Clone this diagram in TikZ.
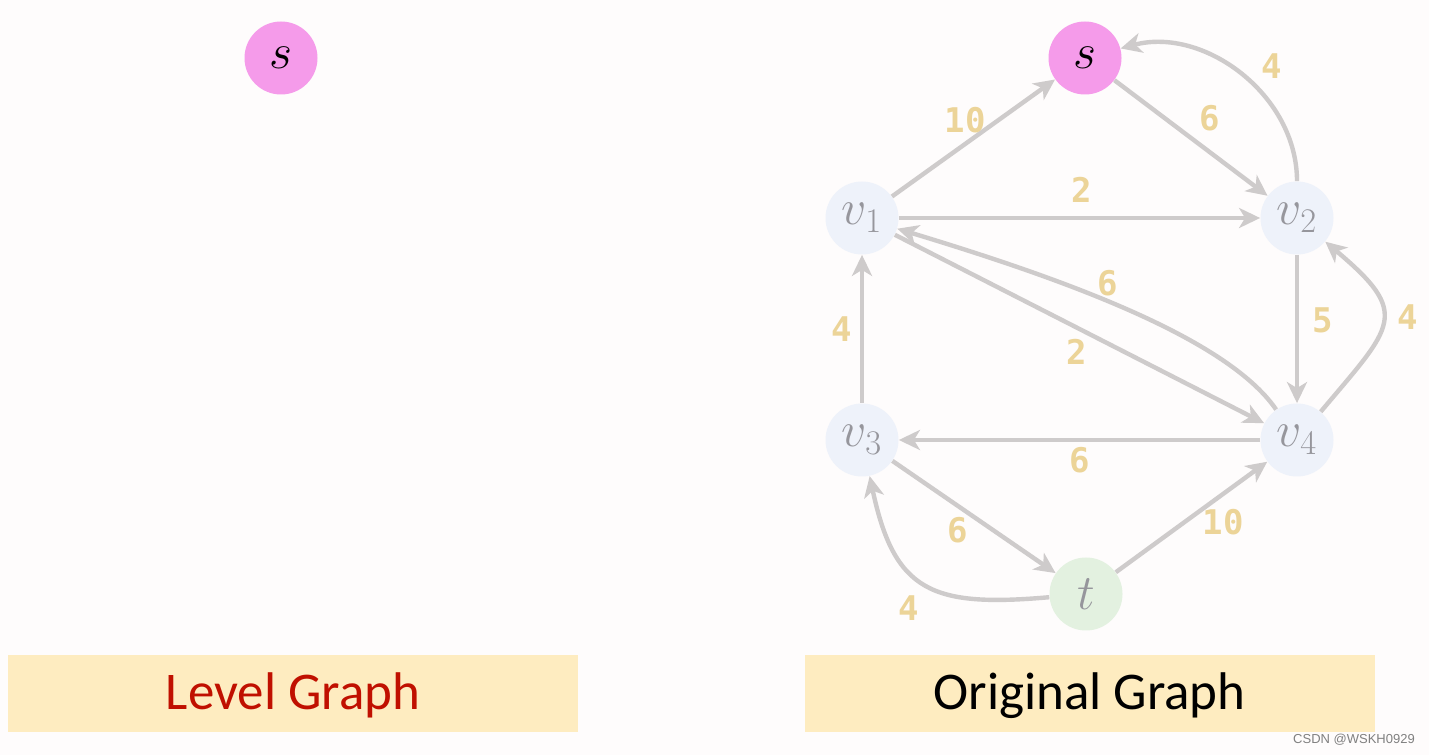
\documentclass[tikz,border=0pt]{standalone}
\usepackage{fontspec}
\setmainfont{Carlito}
\newfontfamily\lblfont{DejaVu Sans Mono}
\newfontfamily\markfont{Liberation Sans}
\usetikzlibrary{arrows.meta}
\definecolor{bgwhite}{RGB}{254,252,252}
\definecolor{edgegray}{RGB}{206,203,203}
\definecolor{srcpink}{RGB}{245,155,234}
\definecolor{vblue}{RGB}{238,242,250}
\definecolor{tgreen}{RGB}{227,241,224}
\definecolor{vtext}{RGB}{150,150,156}
\definecolor{lblgold}{RGB}{236,212,152}
\definecolor{boxyellow}{RGB}{254,236,192}
\definecolor{titlered}{RGB}{192,16,0}
\tikzset{
  vtx/.style={circle,minimum size=36.5pt,inner sep=0pt,font=\fontsize{24}{24}\selectfont},
  src/.style={vtx,fill=srcpink},
  inner/.style={vtx,fill=vblue,text=vtext},
  sink/.style={vtx,fill=tgreen,text=vtext},
  arr/.style={-{Stealth[length=10.5pt,width=10pt,inset=3pt]},line width=2.2pt,draw=edgegray},
  lbl/.style={font=\lblfont\bfseries\fontsize{17}{17}\selectfont,text=lblgold,inner sep=0pt},
  titlebox/.style={fill=boxyellow,minimum width=285pt,minimum height=38.5pt,inner sep=0pt,text depth=2pt,font=\fontsize{26.5}{26.5}\selectfont}
}

\begin{document}
\begin{tikzpicture}[x=0.5pt,y=0.5pt]
\path[fill=bgwhite] (0,0) rectangle (1429,755);
% level graph (left)
\node[src] (ls) at (281,697) {$s$};
\node[titlebox,text=titlered] (lvl) at (293,61.5) {Level Graph};
% original graph (right)
\node[src] (s) at (1085,697) {$s$};
\node[inner] (v1) at (862,537) {$v_1$};
\node[inner] (v2) at (1297,537) {$v_2$};
\node[inner] (v3) at (862,315) {$v_3$};
\node[inner] (v4) at (1297,315) {$v_4$};
\node[sink] (t) at (1086,161) {$t$};
\node[titlebox] (org) at (1089.5,61.5) {Original Graph};
\draw[arr] (v1) -- node[lbl,midway,xshift=-4.25pt,yshift=9pt] {10} (s);
\draw[arr] (s) -- node[lbl,midway,xshift=9.5pt,yshift=10pt] {6} (v2);
\draw[arr] (v2) to[out=90,in=15] node[lbl,midway,xshift=15.7pt,yshift=4pt] {4} (s);
\draw[arr] (v1) -- node[lbl,midway,xshift=1.25pt,yshift=14pt] {2} (v2);
\draw[arr] (v4) .. controls (1225,420) and (1050,480) .. node[lbl,midway,xshift=-8.5pt,yshift=12.75pt] {6} (v1);
\draw[arr] (v1) -- node[lbl,midway,xshift=-1.25pt,yshift=-11.5pt] {2} (v4);
\draw[arr] (v2) -- node[lbl,midway,xshift=13pt,yshift=4.5pt] {5} (v4);
\draw[arr] (v4) to[out=50,in=-40,looseness=1.7] node[lbl,midway,xshift=12.5pt,yshift=2pt] {4} (v2);
\draw[arr] (v3) -- node[lbl,midway,xshift=-10pt] {4} (v1);
\draw[arr] (v4) -- node[lbl,midway,yshift=-10pt] {6} (v3);
\draw[arr] (v3) -- node[lbl,midway,xshift=-8pt,yshift=-6.5pt] {6} (t);
\draw[arr] (t) -- node[lbl,midway,xshift=15.75pt,yshift=-2.5pt] {10} (v4);
\draw[arr] (t) to[out=185,in=-78,looseness=1.4] node[lbl,midway,xshift=-8pt,yshift=-12pt] {4} (v3);
% watermark
\node[font=\markfont\fontsize{6.5}{6.5}\selectfont,text=gray,inner sep=0pt] (mark) at (1354,15) {CSDN @WSKH0929};
\end{tikzpicture}
\end{document}
